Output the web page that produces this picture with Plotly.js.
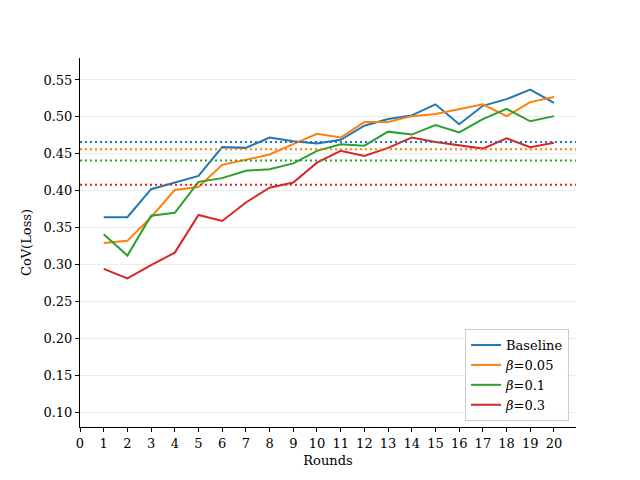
<!DOCTYPE html>
<html>
<head>
<meta charset="utf-8">
<script src="https://cdn.plot.ly/plotly-3.0.1.min.js"></script>
<style>html,body{margin:0;padding:0;background:#fff;}#chart{width:640px;height:480px;}</style>
</head>
<body>
<div id="chart"></div>
<script>
const rounds = [1,2,3,4,5,6,7,8,9,10,11,12,13,14,15,16,17,18,19,20];
const seriesNames = ["Baseline", "<i>β</i>=0.05", "<i>β</i>=0.1", "<i>β</i>=0.3"];
const baseline = [0.364,0.364,0.402,0.411,0.420,0.459,0.458,0.472,0.467,0.464,0.469,0.488,0.497,0.502,0.517,0.490,0.515,0.524,0.537,0.519];
const beta005  = [0.329,0.332,0.364,0.401,0.405,0.435,0.442,0.449,0.463,0.477,0.472,0.493,0.493,0.501,0.504,0.511,0.517,0.501,0.520,0.527];
const beta01   = [0.341,0.312,0.366,0.370,0.412,0.417,0.427,0.429,0.437,0.454,0.463,0.461,0.480,0.476,0.489,0.479,0.497,0.511,0.494,0.501];
const beta03   = [0.294,0.281,0.299,0.316,0.367,0.359,0.384,0.404,0.411,0.438,0.454,0.447,0.458,0.472,0.466,0.461,0.457,0.471,0.459,0.465];
const means    = [0.466,0.456,0.441,0.408];
const colors   = ["#1f77b4","#ff7f0e","#2ca02c","#d62728"];
const xTicks   = [0,1,2,3,4,5,6,7,8,9,10,11,12,13,14,15,16,17,18,19,20];
const yTicks   = [0.10,0.15,0.20,0.25,0.30,0.35,0.40,0.45,0.50,0.55];

const allSeries = [baseline, beta005, beta01, beta03];
const font = "DejaVu Serif";

const traces = allSeries.map((ys, i) => ({
  x: rounds, y: ys, type: "scatter", mode: "lines",
  name: seriesNames[i],
  line: {color: colors[i], width: 2}
}));

const shapes = means.map((m, i) => ({
  type: "line", xref: "paper", x0: 0, x1: 1, yref: "y", y0: m, y1: m,
  line: {color: colors[i], width: 2, dash: "2px,3px"}, layer: "above"
}));

const layout = {
  width: 640, height: 480,
  margin: {l: 80, r: 64, t: 58, b: 53},
  paper_bgcolor: "#fff", plot_bgcolor: "#fff",
  font: {family: font, size: 13, color: "#000"},
  showlegend: true,
  legend: {
    x: 0.986, xanchor: "right", y: 0.016, yanchor: "bottom",
    bgcolor: "rgba(255,255,255,0.8)", bordercolor: "#cccccc", borderwidth: 1,
    font: {family: font, size: 13}, itemwidth: 30
  },
  xaxis: {
    range: [0, 20.93], tickvals: xTicks, ticktext: xTicks.map(String),
    showgrid: false, zeroline: false, showline: true, linecolor: "#000", linewidth: 1,
    ticks: "outside", ticklen: 4, tickcolor: "#000",
    title: {text: "Rounds", font: {family: font, size: 13}, standoff: 6}
  },
  yaxis: {
    range: [0.0797, 0.5798], tickvals: yTicks, ticktext: yTicks.map(v => v.toFixed(2)),
    showgrid: true, gridcolor: "#ebebeb", gridwidth: 1,
    zeroline: false, showline: true, linecolor: "#000", linewidth: 1,
    ticks: "outside", ticklen: 4, tickcolor: "#000",
    title: {text: "CoV(Loss)", font: {family: font, size: 13}, standoff: 8}
  },
  shapes: shapes
};

Plotly.newPlot("chart", traces, layout, {displayModeBar: false, staticPlot: true});
</script>
</body>
</html>
